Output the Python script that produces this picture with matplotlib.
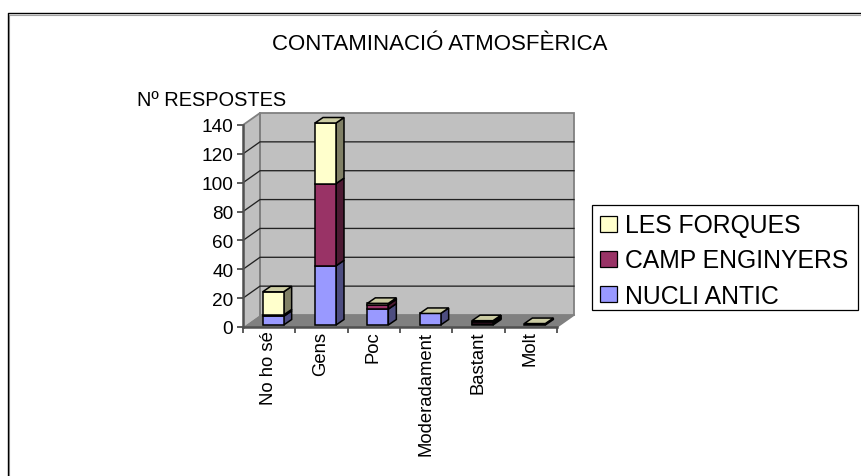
import matplotlib
matplotlib.use("Agg")
import matplotlib.pyplot as plt
from matplotlib.patches import Polygon, Rectangle
from matplotlib.lines import Line2D

plt.rcParams['font.family'] = ['Liberation Sans', 'DejaVu Sans']

categories = ['No ho sé', 'Gens', 'Poc', 'Moderadament', 'Bastant', 'Molt']
nucli_antic = [6, 41, 11, 8, 1, 1]
camp_enginyers = [1, 57, 3, 0, 1, 0]
les_forques = [16, 42, 1, 0, 1, 0]
y_ticks = [0, 20, 40, 60, 80, 100, 120, 140]

W, H = 862, 477
series = [
    ('NUCLI ANTIC', nucli_antic, '#9999FF', '#4D4D80', ),
    ('CAMP ENGINYERS', camp_enginyers, '#993366', '#4D1A33'),
    ('LES FORQUES', les_forques, '#FFFFCC', '#808066'),
]
TOP = '#CCCCA3'

fig = plt.figure(figsize=(W / 100, H / 100), dpi=100, facecolor='white')
L, R, B, T = 243, 557, 328, 126
ax = fig.add_axes([L / W, 1 - B / H, (R - L) / W, (B - T) / H])
ax.set_xlim(0, len(categories))
ax.set_ylim(0, 140)
ax.patch.set_visible(False)
for s in ax.spines.values():
    s.set_visible(False)

px = len(categories) / (R - L)
py = 140 / (B - T)
DX, DY = 17 * px, 12 * py  # wall depth


def poly(pts, fc, ec='none', lw=0, z=1):
    ax.add_patch(Polygon(pts, closed=True, fc=fc, ec=ec, lw=lw, zorder=z, clip_on=False, joinstyle='miter'))


n = len(categories)
# walls and floor
poly([(0, 0), (DX, DY), (DX, 140 + DY), (0, 140)], '#C0C0C0', z=1)
poly([(DX, DY), (n + DX, DY), (n + DX, 140 + DY), (DX, 140 + DY)], '#C0C0C0', '#808080', 1.3, z=1)
poly([(0, 0), (n, 0), (n + DX, DY), (DX, DY)], '#808080', z=1)
ax.plot([0, DX, DX], [140, 140 + DY, DY], color='#808080', lw=1.3, zorder=2, clip_on=False)
ax.plot([n, n + DX], [0, DY], color='#808080', lw=1.2, zorder=2, clip_on=False)
for v in y_ticks[1:-1]:
    ax.plot([0, DX, n + DX], [v, v + DY, v + DY], color='#222222', lw=0.95, zorder=2, clip_on=False)
ax.plot([0, n], [0, 0], color='#505050', lw=1.8, zorder=3, clip_on=False)
ax.plot([0, 0], [0, 140], color='#505050', lw=1.8, zorder=3, clip_on=False)

# stacked pseudo-3D bars
bw = 21 * px
bdx, bdy = 8 * px, 5.5 * py
ox, oy = 4 * px, 2 * py
for i in range(n):
    x0 = i + 0.5 + ox - bw / 2
    x1 = x0 + bw
    base = oy
    for name, vals, col, side in series:
        v = vals[i]
        if v == 0:
            continue
        top = base + v
        poly([(x1, base), (x1 + bdx, base + bdy), (x1 + bdx, top + bdy), (x1, top)], side, 'black', 1.1, 5)
        poly([(x0, base), (x1, base), (x1, top), (x0, top)], col, 'black', 1.1, 6)
        base = top
    poly([(x0, base), (x1, base), (x1 + bdx, base + bdy), (x0 + bdx, base + bdy)], TOP, 'black', 1.1, 7)

ax.set_xticks(range(n + 1))
ax.set_xticklabels([])
ax.tick_params(axis='x', length=4, width=1.1, color='#303030', direction='out')
ax.set_yticks(y_ticks)
ax.tick_params(axis='y', length=4, width=1.1, color='#303030', labelsize=13.7, pad=3, labelcolor='black')
for i, c in enumerate(categories):
    ax.text(i + 0.49, -2.5, c, rotation=90, ha='center', va='top', fontsize=13.3, color='black', clip_on=False)

fig.text(440 / W, 1 - 44 / H, 'CONTAMINACIÓ ATMOSFÈRICA', ha='center', va='center', fontsize=16)
fig.text(212 / W, 1 - 100 / H, 'Nº RESPOSTES', ha='center', va='center', fontsize=14.4)

# chart frame
fig.add_artist(Line2D([9.5 / W, 9.5 / W, 1], [0, 1 - 15.5 / H, 1 - 15.5 / H], color='#A0A0A0', lw=0.8))
fig.add_artist(Line2D([8.5 / W, 8.5 / W, 1], [0, 1 - 14 / H, 1 - 14 / H], color='black', lw=1.0))

# legend box
fig.add_artist(Rectangle((591.5 / W, 1 - 310.5 / H), 266 / W, 105 / H, transform=fig.transFigure, fc='white', ec='black', lw=0.9))
for name, col, yc in [('LES FORQUES', '#FFFFCC', 225), ('CAMP ENGINYERS', '#993366', 260), ('NUCLI ANTIC', '#9999FF', 295)]:
    fig.add_artist(Rectangle((600.5 / W, 1 - (yc + 8) / H), 17 / W, 16 / H, transform=fig.transFigure, fc=col, ec='black', lw=0.9))
    fig.text(625 / W, 1 - (yc + 1.5) / H, name, ha='left', va='center', fontsize=17.8, color='black')

fig.savefig('out.png', dpi=100)
